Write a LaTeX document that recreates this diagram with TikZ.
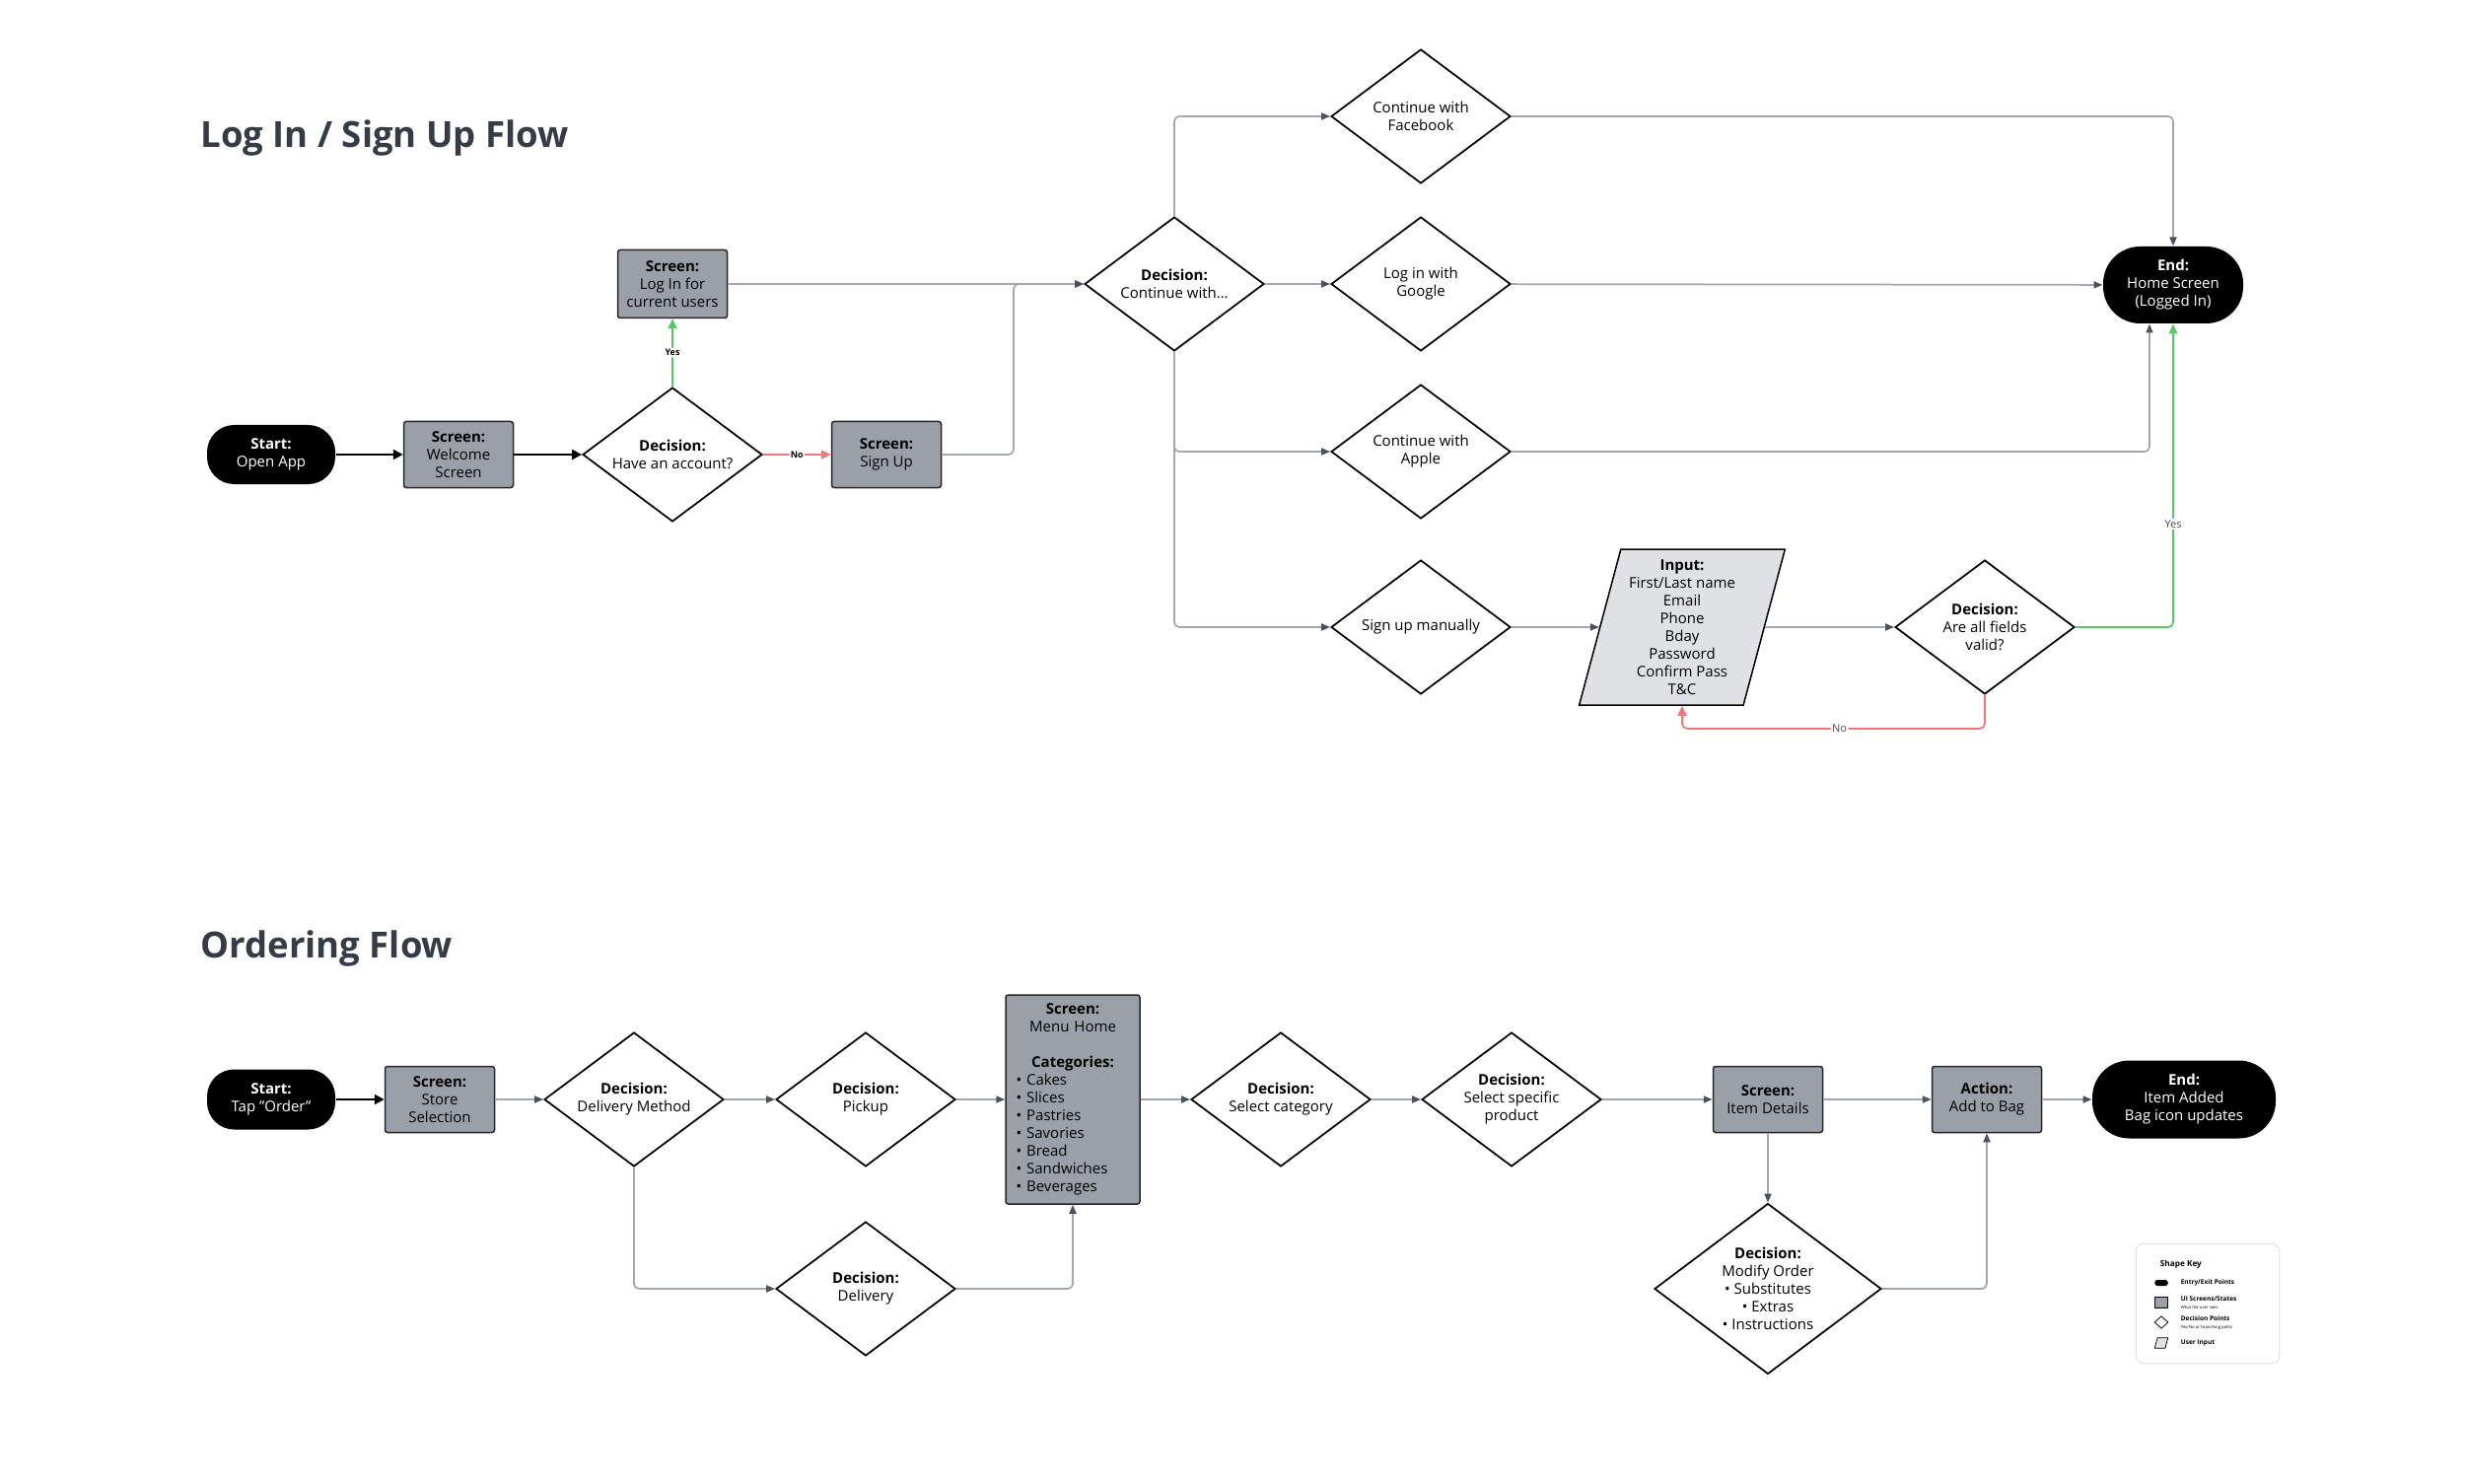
\documentclass[tikz,border=0pt]{standalone}
\usepackage{fontspec}
\setmainfont{Open Sans}
\usepackage{tikz}
\usetikzlibrary{arrows.meta, positioning, shapes.geometric}
\usepackage{xcolor}
\definecolor{screengray}{RGB}{155, 159, 167}
\definecolor{inputgray}{RGB}{223, 225, 229}
\definecolor{linegray}{RGB}{163, 168, 175}
\definecolor{tipgray}{RGB}{75, 82, 92}
\definecolor{yesgreen}{RGB}{88, 200, 100}
\definecolor{nored}{RGB}{242, 120, 120}
\definecolor{titlegray}{RGB}{54, 60, 69}
\definecolor{keyborder}{RGB}{222, 225, 230}

\begin{document}
\begin{tikzpicture}[x=0.4pt, y=-0.4pt,
    every node/.style={font=\fontsize{6}{7.2}\selectfont, align=center},
    terminal/.style={fill=black, text=white, rounded corners=11pt, minimum width=52pt, minimum height=24pt, inner sep=1pt},
    screen/.style={draw=black!85, fill=screengray, rounded corners=1pt, line width=0.6pt, minimum width=44.4pt, minimum height=26.8pt, inner sep=1pt},
    decision/.style={draw, diamond, fill=white, line width=0.7pt, aspect=1.34, inner sep=0pt, minimum width=72.8pt, minimum height=54.4pt},
    userinput/.style={draw, trapezium, trapezium left angle=75, trapezium right angle=105, trapezium stretches=true, fill=inputgray, line width=0.6pt, minimum width=84pt, minimum height=63.2pt, inner sep=0pt},
    link/.style={draw=linegray, line width=0.7pt, rounded corners=2pt, -{Triangle[length=3.6pt, width=2.8pt, color=tipgray]}},
    mainlink/.style={draw=black, line width=0.9pt, -{Triangle[length=4pt, width=4pt]}},
    yeslink/.style={draw=yesgreen, line width=0.7pt, rounded corners=2pt, -{Triangle[length=4pt, width=3.6pt]}},
    nolink/.style={draw=nored, line width=0.7pt, rounded corners=2pt, -{Triangle[length=4pt, width=3.6pt]}},
    tag/.style={fill=white, inner sep=0.6pt, font=\fontsize{3.6}{4}\selectfont}]
    \useasboundingbox (0,0) rectangle (2500,1505);

    % Titles
    \node[anchor=west, inner sep=0pt, text=titlegray, font=\fontsize{14.6}{16}\selectfont\bfseries] (logintitle) at (203,140) {Log In / Sign Up Flow};
    \node[anchor=west, inner sep=0pt, text=titlegray, font=\fontsize{14.6}{16}\selectfont\bfseries] (ordertitle) at (203,962) {Ordering Flow};

    % Log in / sign up
    \node[terminal] (open) at (275,461) {\textbf{Start:}\\Open App};
    \node[screen] (welcome) at (465,461) {\textbf{Screen:}\\Welcome\\Screen};
    \node[decision] (account) at (682,461) {\textbf{Decision:}\\Have an account?};
    \node[screen, minimum height=27.6pt] (login) at (682,288) {\textbf{Screen:}\\Log In for\\current users};
    \node[screen] (signup) at (899,461) {\textbf{Screen:}\\Sign Up};
    \node[decision] (cont) at (1191,288) {\textbf{Decision:}\\Continue with…};
    \node[decision] (fb) at (1441,118) {Continue with\\Facebook};
    \node[decision] (google) at (1441,288) {Log in with\\Google};
    \node[decision] (apple) at (1441,458) {Continue with\\Apple};
    \node[decision] (manual) at (1441,636) {Sign up manually};
    \node[userinput] (form) at (1706,636) {\textbf{Input:}\\First/Last name\\Email\\Phone\\Bday\\Password\\Confirm Pass\\T\&C};
    \node[decision] (valid) at (2013,636) {\textbf{Decision:}\\Are all fields\\valid?};
    \node[terminal, minimum width=56.8pt, minimum height=31.2pt, rounded corners=15pt] (home) at (2204,289) {\textbf{End:}\\Home Screen\\(Logged In)};
    \coordinate (joint) at (1028,288);

    \draw[mainlink] (open) -- (welcome);
    \draw[mainlink] (welcome) -- (account);
    \draw[yeslink] (account) -- node[tag, font=\fontsize{3.6}{4}\selectfont\bfseries] {Yes} (login);
    \draw[nolink] (account) -- node[tag, font=\fontsize{3.6}{4}\selectfont\bfseries] {No} (signup);
    \draw[link] (login) -- (cont);
    \draw[link] (signup.east) -| (joint) -- (cont.west);
    \draw[link] (cont.north) |- (fb.west);
    \draw[link] (cont) -- (google);
    \draw[link] (cont.south) |- (apple.west);
    \draw[link] (cont.south) |- (manual.west);
    \draw[link] (fb.east) -| (home.north);
    \draw[link] (google) -- (home);
    \draw[link] (apple.east) -| ([xshift=-9.6pt]home.south);
    \draw[link] (manual) -- (form);
    \draw[link] (form) -- (valid);
    \draw[yeslink] (valid.east) -| node[tag, pos=0.67, text=black!70, font=\fontsize{4.4}{5}\selectfont] {Yes} (home.south);
    \draw[nolink] (valid.south) -- ++(0,34) -| node[tag, pos=0.24, text=black!70, font=\fontsize{4.4}{5}\selectfont] {No} (form.south);

    % Ordering
    \node[terminal, minimum height=24.4pt] (tap) at (275,1115) {\textbf{Start:}\\Tap "Order"};
    \node[screen] (store) at (446,1115) {\textbf{Screen:}\\Store\\Selection};
    \node[decision] (method) at (643,1115) {\textbf{Decision:}\\Delivery Method};
    \node[decision] (pickup) at (878,1115) {\textbf{Decision:}\\Pickup};
    \node[decision] (delivery) at (878,1307) {\textbf{Decision:}\\Delivery};
    \node[screen, minimum width=54.4pt, minimum height=84.8pt, text width=46pt, align=left] (menu) at (1088,1115)
        {\makebox[\linewidth]{\textbf{Screen:}}\\\makebox[\linewidth]{Menu Home}\\[7.2pt]\makebox[\linewidth]{\textbf{Categories:}}\\
         • Cakes\\• Slices\\• Pastries\\• Savories\\• Bread\\• Sandwiches\\• Beverages};
    \node[decision] (category) at (1299,1115) {\textbf{Decision:}\\Select category};
    \node[decision] (product) at (1533,1115) {\textbf{Decision:}\\Select specific\\product};
    \node[screen] (details) at (1793,1115) {\textbf{Screen:}\\Item Details};
    \node[screen] (bag) at (2015,1115) {\textbf{Action:}\\Add to Bag};
    \node[terminal, minimum width=74.4pt, minimum height=31.6pt, rounded corners=15pt] (added) at (2215,1115) {\textbf{End:}\\Item Added\\Bag icon updates};
    \node[decision, minimum width=92pt, minimum height=69.2pt] (modify) at (1793,1307) {\textbf{Decision:}\\Modify Order\\• Substitutes\\• Extras\\• Instructions};

    \draw[mainlink] (tap) -- (store);
    \draw[link] (store) -- (method);
    \draw[link] (method) -- (pickup);
    \draw[link] (pickup) -- (menu);
    \draw[link] (method.south) |- (delivery.west);
    \draw[link] (delivery.east) -| (menu.south);
    \draw[link] (menu) -- (category);
    \draw[link] (category) -- (product);
    \draw[link] (product) -- (details);
    \draw[link] (details) -- (bag);
    \draw[link] (bag) -- (added);
    \draw[link] (details) -- (modify);
    \draw[link] (modify.east) -| (bag.south);

    % Shape key
    \node[draw=keyborder, line width=0.4pt, rounded corners=3pt, minimum width=58.2pt, minimum height=48.6pt] (keybox) at (2239,1322) {};
    \node[anchor=west, font=\fontsize{3.3}{4}\selectfont\bfseries] (keytitle) at (2182,1282) {Shape Key};
    \node[fill=black, rounded corners=1.1pt, minimum width=5.4pt, minimum height=2.4pt, inner sep=0pt] (keyterm) at (2192,1301) {};
    \node[draw, fill=screengray, line width=0.3pt, minimum width=5.2pt, minimum height=4.2pt, inner sep=0pt] (keyscreen) at (2192,1321) {};
    \node[draw, diamond, line width=0.3pt, minimum width=5.6pt, minimum height=5pt, inner sep=0pt] (keydecision) at (2192,1341) {};
    \node[draw, trapezium, trapezium left angle=70, trapezium right angle=110, trapezium stretches=true, fill=inputgray, line width=0.3pt, minimum width=5.4pt, minimum height=4.2pt, inner sep=0pt] (keyinput) at (2192,1362) {\phantom{\rule{1pt}{1pt}}};
    \node[anchor=west, font=\fontsize{2.6}{3}\selectfont\bfseries] (keytermtext) at (2203,1301) {Entry/Exit Points};
    \node[anchor=west, align=left, font=\fontsize{2.6}{3.2}\selectfont] (keyscreentext) at (2203,1321) {\textbf{UI Screens/States}\\{\fontsize{1.7}{2}\selectfont What the user sees}};
    \node[anchor=west, align=left, font=\fontsize{2.6}{3.2}\selectfont] (keydecisiontext) at (2203,1342) {\textbf{Decision Points}\\{\fontsize{1.7}{2}\selectfont Yes/No or branching paths}};
    \node[anchor=west, font=\fontsize{2.6}{3}\selectfont\bfseries] (keyinputtext) at (2203,1362) {User Input};
\end{tikzpicture}
\end{document}
